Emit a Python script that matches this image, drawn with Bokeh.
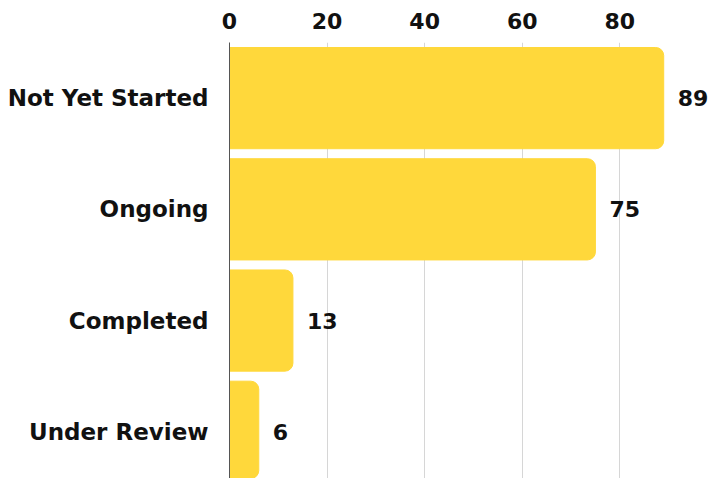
from bokeh.plotting import figure
from bokeh.models import Range1d, ColumnDataSource, FixedTicker
from bokeh.core.properties import value
from bokeh.embed import file_html
from bokeh.resources import INLINE

categories = ["Not Yet Started", "Ongoing", "Completed", "Under Review"]
counts = [89, 75, 13, 6]
x_ticks = [0, 20, 40, 60, 80]

FONT = "DejaVu Sans"
SIZE = "23px"
pos = list(range(len(categories)))
src = ColumnDataSource(dict(y=pos, x=counts, lab=[str(c) for c in counts]))

p = figure(width=712, height=478, output_backend="svg", toolbar_location=None,
           x_range=Range1d(0, 99), y_range=Range1d(3.42, -0.5),
           x_axis_location="above", min_border_left=229, min_border_top=42,
           min_border_bottom=0, min_border_right=0)
p.outline_line_color = None
p.background_fill_color = "white"

p.hbar(y="y", right="x", left=0, height=0.91, source=src, color="#FFD83B",
       border_radius=(0, 8, 8, 0))
p.text(x="x", y="y", text="lab", source=src, x_offset=14, text_baseline="middle",
       text_align="left", text_font=value(FONT), text_font_style="bold",
       text_font_size="22px", text_color="#111111")

p.xaxis.ticker = FixedTicker(ticks=x_ticks)
p.xaxis.axis_line_color = None
p.xaxis.major_tick_line_color = None
p.xaxis.minor_tick_line_color = None
p.xaxis.major_label_standoff = 8
p.xaxis.major_label_text_font = FONT
p.xaxis.major_label_text_font_style = "bold"
p.xaxis.major_label_text_font_size = "22px"
p.xaxis.major_label_text_color = "#111111"

p.yaxis.ticker = FixedTicker(ticks=pos)
p.yaxis.major_label_overrides = {i: c for i, c in enumerate(categories)}
p.yaxis.axis_line_color = "#555555"
p.yaxis.major_tick_line_color = None
p.yaxis.minor_tick_line_color = None
p.yaxis.major_label_standoff = 15
p.yaxis.major_label_text_font = FONT
p.yaxis.major_label_text_font_style = "bold"
p.yaxis.major_label_text_font_size = SIZE
p.yaxis.major_label_text_color = "#111111"

p.xgrid.grid_line_color = "#d6d6d6"
p.xgrid.level = "underlay"
p.ygrid.grid_line_color = None

open("out.html", "w").write(file_html(p, INLINE))
